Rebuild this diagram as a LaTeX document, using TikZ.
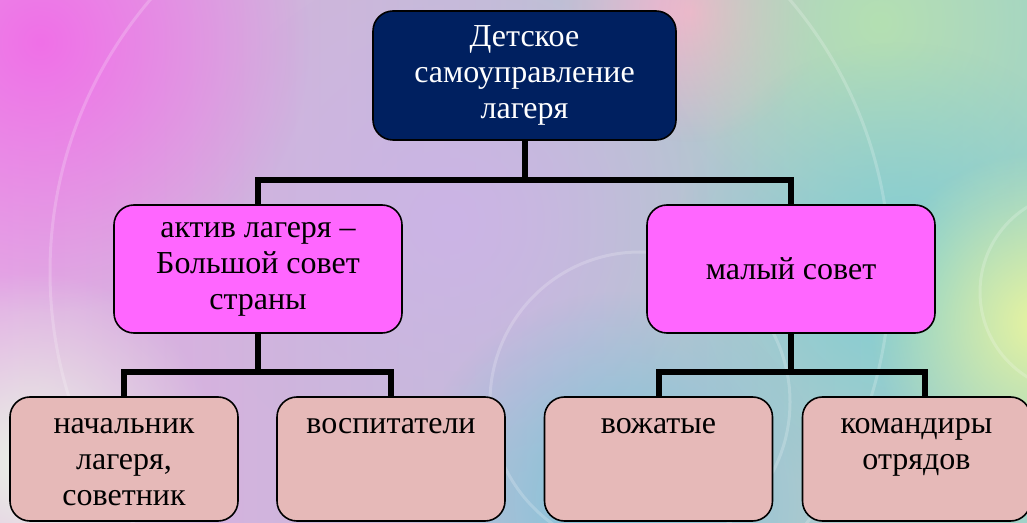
\documentclass[tikz,border=0pt]{standalone}
\usepackage{fontspec}
\setmainfont{Liberation Serif}
\newfontfamily\ruserif{Liberation Serif}
\usetikzlibrary{fadings}
\definecolor{navyblock}{RGB}{0, 32, 96}
\definecolor{pinkblock}{RGB}{255, 102, 255}
\definecolor{roseblock}{RGB}{230, 185, 184}
\definecolor{bgleft}{RGB}{226, 170, 228}
\definecolor{bgmid}{RGB}{200, 182, 224}
\definecolor{bgright}{RGB}{160, 210, 200}
\definecolor{blobmagenta}{RGB}{240, 112, 232}
\definecolor{blobpink}{RGB}{244, 180, 206}
\definecolor{blobgreen}{RGB}{180, 224, 178}
\definecolor{blobteal}{RGB}{128, 206, 210}
\definecolor{blobyellow}{RGB}{232, 244, 160}
\definecolor{blobblue}{RGB}{124, 196, 218}
\definecolor{blobpale}{RGB}{234, 244, 228}
\definecolor{bloblilac}{RGB}{204, 180, 230}
\tikzfading[name=softblob, inner color=transparent!0, outer color=transparent!100]
\newcommand{\lowtext}[1]{\parbox[c][124pt][t]{220pt}{\centering\rule{0pt}{36pt}#1}}

\begin{document}
\begin{tikzpicture}[
    x=1pt, y=1pt,
    font=\ruserif\fontsize{32}{36}\selectfont,
    base/.style={
        draw=black,
        line width=1.6pt,
        rounded corners=20pt,
        inner sep=0pt
    },
    topblock/.style={
        base,
        align=center,
        fill=navyblock,
        text=white,
        minimum width=303pt,
        minimum height=129pt
    },
    midblock/.style={
        base,
        align=center,
        fill=pinkblock,
        minimum width=288pt,
        minimum height=128pt
    },
    lowblock/.style={
        base,
        fill=roseblock,
        minimum width=228pt,
        minimum height=124pt
    },
    blob/.style={path fading=softblob, fit fading=true},
    glint/.style={draw=white, opacity=0.2, line width=3pt},
    conn/.style={line width=6pt, line join=miter}
]

    % Background
    \useasboundingbox (0,0) rectangle (1027,522);
    \shade[left color=bgleft, middle color=bgmid, right color=bgright] (0,0) rectangle (1027,522);
    \begin{scope}
        \clip (0,0) rectangle (1027,522);
        \fill[bloblilac, blob] (450,300) circle (260);
        \fill[blobmagenta, blob] (40,480) circle (270);
        \fill[blobpink, blob] (690,510) circle (130);
        \fill[blobgreen, blob] (880,500) circle (220);
        \fill[blobteal, blob] (900,250) circle (230);
        \fill[blobyellow, blob] (1040,200) circle (170);
        \fill[blobblue, blob] (620,20) circle (210);
        \fill[blobpale, blob] (30,60) circle (190);
        \draw[glint] (470,250) circle (420);
        \draw[glint] (1080,230) circle (100);
        \draw[glint] (640,120) circle (150);
    \end{scope}

    % Nodes
    \node[topblock] (camp) at (524.5,446.5) {Детское\\самоуправление\\лагеря};
    \node[midblock] (aktiv) at (258,253) {актив лагеря –\\Большой совет\\страны};
    \node[midblock] (council) at (791,253) {малый совет};
    \node[lowblock] (head) at (124,63) {\lowtext{начальник\\лагеря,\\советник}};
    \node[lowblock] (tutors) at (391,63) {\lowtext{воспитатели}};
    \node[lowblock] (leaders) at (658.5,63) {\lowtext{вожатые}};
    \node[lowblock] (captains) at (916.5,63) {\lowtext{командиры\\отрядов}};

    % Edges
    \coordinate (topbus) at (524.5,342);
    \coordinate (leftbus) at (258,150);
    \coordinate (rightbus) at (791,150);
    \draw[conn] (camp.south) -- (topbus);
    \draw[conn] (aktiv.north) |- (topbus) -| (council.north);
    \draw[conn] (aktiv.south) -- (leftbus);
    \draw[conn] (head.north) |- (leftbus) -| (tutors.north);
    \draw[conn] (council.south) -- (rightbus);
    \draw[conn] (leaders.north) |- (rightbus) -| ([xshift=8pt]captains.north);

\end{tikzpicture}
\end{document}
